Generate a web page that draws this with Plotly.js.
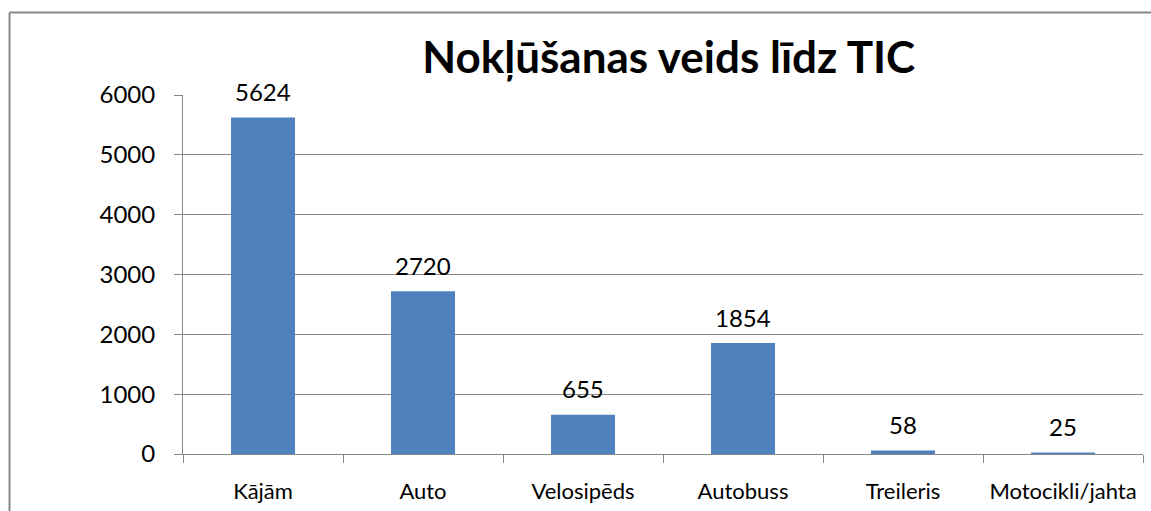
<!DOCTYPE html>
<html>
<head>
<meta charset="utf-8">
<script src="https://cdn.plot.ly/plotly-3.0.1.min.js"></script>
<style>html,body{margin:0;padding:0;background:#fff;}#chart{width:1151px;height:511px;}</style>
</head>
<body>
<div id="chart"></div>
<script>
const categories = ["Kājām", "Auto", "Velosipēds", "Autobuss", "Treileris", "Motocikli/jahta"];
const values = [5624, 2720, 655, 1854, 58, 25];
const yTicks = [0, 1000, 2000, 3000, 4000, 5000, 6000];
const titleText = "Nokļūšanas veids līdz TIC";

const FONT = "Lato, 'Open Sans', sans-serif";
const gray = "#878787";

const trace = {
  type: "bar",
  x: categories,
  y: values,
  width: 0.4,
  marker: {color: "#4F81BD", line: {width: 0}},
  hoverinfo: "x+y"
};

const annotations = categories.map((c, i) => ({
  x: c, y: values[i], xref: "x", yref: "y",
  text: String(values[i]), showarrow: false,
  yanchor: "middle", yshift: 26,
  font: {family: FONT, size: 24, color: "#000"}
}));

const layout = {
  width: 1151, height: 511,
  margin: {l: 183, r: 8, t: 95, b: 57},
  paper_bgcolor: "#fff", plot_bgcolor: "#fff",
  showlegend: false,
  title: {
    text: titleText,
    font: {family: FONT, size: 44, color: "#000", weight: "bold"},
    x: 0.581, xref: "container", xanchor: "center",
    y: 0.887, yref: "container", yanchor: "middle"
  },
  xaxis: {
    type: "category",
    tickson: "boundaries",
    tickangle: 0,
    ticks: "outside", ticklen: 8, tickcolor: gray, tickwidth: 1,
    showline: true, linecolor: gray, linewidth: 1,
    showgrid: false,
    tickfont: {family: FONT, size: 22, color: "#000"},
    ticklabelstandoff: 18,
    range: [-0.5, 5.5],
    fixedrange: true
  },
  yaxis: {
    range: [0, 6000],
    tickvals: yTicks,
    ticktext: yTicks.map(String),
    ticks: "outside", ticklen: 8, tickcolor: gray, tickwidth: 1,
    showline: true, linecolor: gray, linewidth: 1,
    showgrid: true, gridcolor: gray, gridwidth: 1,
    zeroline: false,
    tickfont: {family: FONT, size: 24, color: "#000"},
    ticklabelstandoff: 14,
    fixedrange: true
  },
  annotations: annotations,
  shapes: [
    {type: "line", xref: "paper", yref: "paper", x0: -0.1807, x1: -0.1807, y0: -0.3, y1: 1.2298,
     line: {color: gray, width: 2}},
    {type: "line", xref: "paper", yref: "paper", x0: -0.1807, x1: 1.02, y0: 1.2298, y1: 1.2298,
     line: {color: gray, width: 2}}
  ]
};

Plotly.newPlot("chart", [trace], layout, {displayModeBar: false, staticPlot: true});
</script>
</body>
</html>
